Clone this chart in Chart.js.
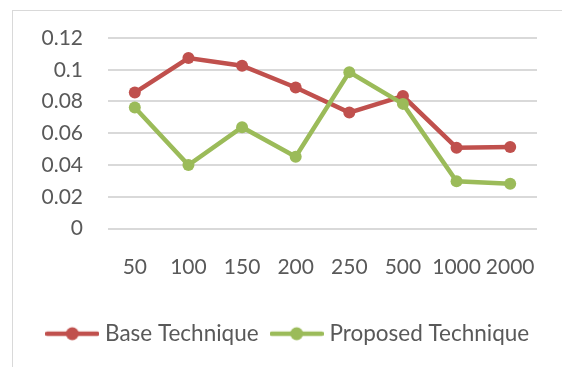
<!DOCTYPE html>
<html>
<head>
<meta charset="utf-8">
<script src="https://cdn.jsdelivr.net/npm/chart.js@4"></script>
<style>
  html, body { margin: 0; padding: 0; background: #ffffff; overflow: hidden; }
  body { width: 562px; height: 367px; position: relative; }
  .frame {
    position: absolute; left: 12px; top: 10px;
    width: 640px; height: 420px;
    border: 1.5px solid #d9d9d9;
    box-sizing: border-box;
  }
  #chart { position: absolute; left: 0; top: 0; }
</style>
</head>
<body>
<div class="frame"></div>
<canvas id="chart" width="580" height="357"></canvas>
<script>
// Sample sizes along the x axis
const categories = ['50', '100', '150', '200', '250', '500', '1000', '2000'];

// Error values per technique
const baseTechnique = [0.0856, 0.1074, 0.1025, 0.0888, 0.0730, 0.0834, 0.0509, 0.0513];
const proposedTechnique = [0.0762, 0.0400, 0.0638, 0.0452, 0.0985, 0.0785, 0.0297, 0.0282];

// Value axis ticks
const yTicks = [0, 0.02, 0.04, 0.06, 0.08, 0.1, 0.12];

const seriesNames = ['Base Technique', 'Proposed Technique'];
const RED = '#C0504D';
const GREEN = '#9BBB59';
const TEXT = '#595959';
const FONT = 'Lato, "Open Sans", sans-serif';

// Legend swatch: a short line with a round marker in the middle
function legendMarker(color) {
  const c = document.createElement('canvas');
  c.width = 54; c.height = 16;
  const g = c.getContext('2d');
  g.strokeStyle = color;
  g.lineWidth = 4.5;
  g.lineCap = 'round';
  g.beginPath();
  g.moveTo(2, 8); g.lineTo(52, 8);
  g.stroke();
  g.fillStyle = color;
  g.beginPath();
  g.arc(27, 8, 6.5, 0, Math.PI * 2);
  g.fill();
  return c;
}
const markers = [legendMarker(RED), legendMarker(GREEN)];

// Let the legend centre itself across the full canvas width
const widenLegend = {
  id: 'widenLegend',
  afterLayout(chart) {
    const lg = chart.legend;
    if (lg) { lg.left = 0; lg.right = chart.width; lg.width = chart.width; }
  }
};

new Chart(document.getElementById('chart'), {
  type: 'line',
  data: {
    labels: categories,
    datasets: [
      {
        label: seriesNames[0],
        data: baseTechnique,
        borderColor: RED,
        backgroundColor: RED,
        borderWidth: 4.5,
        pointRadius: 6,
        pointBorderWidth: 0,
        pointBackgroundColor: RED,
        tension: 0,
        order: 1
      },
      {
        label: seriesNames[1],
        data: proposedTechnique,
        borderColor: GREEN,
        backgroundColor: GREEN,
        borderWidth: 4.5,
        pointRadius: 6,
        pointBorderWidth: 0,
        pointBackgroundColor: GREEN,
        tension: 0,
        order: 0
      }
    ]
  },
  plugins: [widenLegend],
  options: {
    responsive: false,
    animation: false,
    devicePixelRatio: 1,
    layout: { padding: { top: 38, right: 43, bottom: 2, left: 0 } },
    clip: false,
    scales: {
      x: {
        offset: true,
        grid: { display: false, drawTicks: false },
        border: { display: false },
        ticks: {
          color: TEXT,
          padding: 26,
          maxRotation: 0,
          autoSkip: false,
          font: { family: FONT, size: 21 }
        },
        afterFit(scale) { scale.height = 77.5; }
      },
      y: {
        min: 0,
        max: 0.12,
        afterBuildTicks(scale) { scale.ticks = yTicks.map(v => ({ value: v })); },
        grid: { color: '#d9d9d9', lineWidth: 2, drawTicks: false },
        border: { display: false },
        ticks: {
          color: TEXT,
          padding: 25,
          font: { family: FONT, size: 21 },
          callback: v => String(Number(v.toFixed(2)))
        },
        afterFit(scale) { scale.width = 108; }
      }
    },
    plugins: {
      tooltip: { enabled: false },
      legend: {
        position: 'bottom',
        labels: {
          color: TEXT,
          font: { family: FONT, size: 22.5 },
          usePointStyle: true,
          pointStyleWidth: 43,
          padding: 16.5,
          generateLabels(chart) {
            const items = Chart.defaults.plugins.legend.labels.generateLabels(chart);
            items.sort((a, b) => a.datasetIndex - b.datasetIndex);
            items.forEach(it => { it.pointStyle = markers[it.datasetIndex]; });
            return items;
          }
        }
      }
    }
  }
});
</script>
</body>
</html>
